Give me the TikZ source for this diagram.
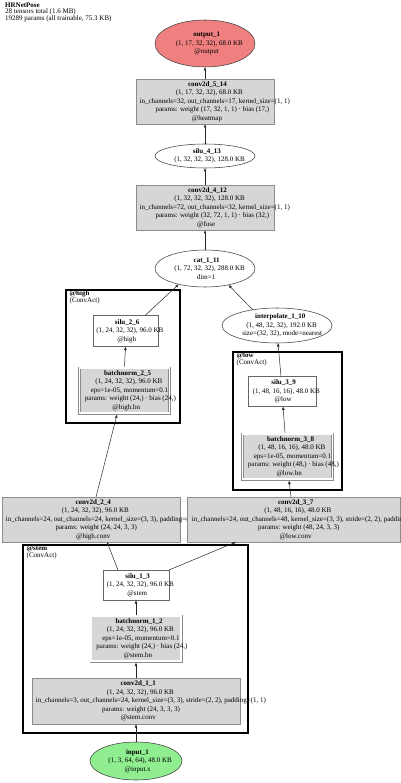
\documentclass[tikz,border=0pt]{standalone}
\usepackage{fontspec}
\setmainfont{Liberation Serif}
\usetikzlibrary{arrows.meta,shapes.geometric}
\definecolor{outfill}{HTML}{F08080}
\definecolor{infill}{HTML}{90EE90}
\definecolor{boxfill}{HTML}{D6D6D6}
\newcommand\gl[1]{\setbox0\hbox{#1}\hspace*{0.13\wd0}\box0}
\tikzset{
 gvtext/.style={font=\fontsize{7}{8.5}\selectfont, align=center, inner sep=0pt},
 ell/.style={ellipse, draw=black!75, line width=0.55pt, fill=white, inner sep=0pt, outer sep=0pt},
 convb/.style={rectangle, draw=black!45, fill=boxfill, line width=0.55pt, inner sep=0pt, outer sep=0pt},
 silub/.style={rectangle, draw=black!60, fill=white, line width=0.55pt, inner sep=0pt, outer sep=0pt},
 bnb/.style={rectangle, draw=black!45, double=white, double distance=1.6pt, fill=boxfill, line width=0.55pt, inner sep=0pt, outer sep=1.35pt, minimum width=90.3, minimum height=45.3},
 clus/.style={rectangle, draw=black, line width=2.4pt, inner sep=0pt, outer sep=0pt},
 clab/.style={font=\fontsize{7}{7}\selectfont, anchor=base west, inner sep=0pt},
 gvedge/.style={draw=black!85, line width=0.5pt, -{Latex[length=3.5pt,width=2.8pt]}},
}
\begin{document}
\begin{tikzpicture}[x=1pt,y=-1pt]
\useasboundingbox (0,0) rectangle (400,783);
% header
\node[clab] (hdr1) at (5,7.6) {\textbf{HRNetPose}};
\node[clab] (hdr2) at (5,13.9) {28 tensors total (1.6 MB)};
\node[clab] (hdr3) at (5,20.2) {19289 params (all trainable, 75.3 KB)};
% clusters
\node[clus, minimum width=114, minimum height=133] (chigh) at (123,356.5) {};
\node[clab] (chigh1) at (69.5,295.6) {\textbf{@high}};
\node[clab] (chigh2) at (69.5,302.2) {(ConvAct)};
\node[clus, minimum width=109, minimum height=138] (clow) at (287.5,421) {};
\node[clab] (clow1) at (236.5,357.6) {\textbf{@low}};
\node[clab] (clow2) at (236.5,364.2) {(ConvAct)};
\node[clus, minimum width=225, minimum height=188] (cstem) at (135.5,639) {};
\node[clab] (cstem1) at (26.5,550.6) {\textbf{@stem}};
\node[clab] (cstem2) at (26.5,557.2) {(ConvAct)};
% nodes
\node[ell, fill=outfill, minimum width=100, minimum height=47] (out1) at (205,43.5) {};
\node[gvtext] (out1t) at (out1) {\gl{\textbf{output\_1}}\\\gl{(1, 17, 32, 32), 68.0 KB}\\\gl{@output}};
\node[convb, minimum width=138, minimum height=45] (c514) at (205,101.5) {};
\node[gvtext] (c514t) at (c514) {\gl{\textbf{conv2d\_5\_14}}\\\gl{(1, 17, 32, 32), 68.0 KB}\\\gl{in\_channels=32, out\_channels=17, kernel\_size=(1, 1)}\\\gl{params: weight (17, 32, 1, 1) · bias (17,)}\\\gl{@heatmap}};
\node[ell, minimum width=100, minimum height=24] (s413) at (205,156) {};
\node[gvtext] (s413t) at (s413) {\gl{\textbf{silu\_4\_13}}\\\gl{(1, 32, 32, 32), 128.0 KB}};
\node[convb, minimum width=138, minimum height=45] (c412) at (205,207.5) {};
\node[gvtext] (c412t) at (c412) {\gl{\textbf{conv2d\_4\_12}}\\\gl{(1, 32, 32, 32), 128.0 KB}\\\gl{in\_channels=72, out\_channels=32, kernel\_size=(1, 1)}\\\gl{params: weight (32, 72, 1, 1) · bias (32,)}\\\gl{@fuse}};
\node[ell, minimum width=100, minimum height=37] (cat) at (205,268.5) {};
\node[gvtext] (catt) at (cat) {\gl{\textbf{cat\_1\_11}}\\\gl{(1, 72, 32, 32), 288.0 KB}\\\gl{dim=1}};
\node[ell, minimum width=110, minimum height=35] (interp) at (277,325.5) {};
\node[gvtext] (interpt) at (interp) {\gl{\textbf{interpolate\_1\_10}}\\\gl{(1, 48, 32, 32), 192.0 KB}\\\gl{size=(32, 32), mode=nearest}};
\node[silub, minimum width=65, minimum height=31] (s26) at (125.5,331) {};
\node[gvtext] (s26t) at (s26) {\gl{\textbf{silu\_2\_6}}\\\gl{(1, 24, 32, 32), 96.0 KB}\\\gl{@high}};
\node[bnb] (bn25) at (124.5,390.5) {};
\node[gvtext] (bn25t) at (bn25) {\gl{\textbf{batchnorm\_2\_5}}\\\gl{(1, 24, 32, 32), 96.0 KB}\\\gl{eps=1e-05, momentum=0.1}\\\gl{params: weight (24,) · bias (24,)}\\\gl{@high.bn}};
\node[silub, minimum width=68, minimum height=30] (s39) at (282,391.5) {};
\node[gvtext] (s39t) at (s39) {\gl{\textbf{silu\_3\_9}}\\\gl{(1, 48, 16, 16), 48.0 KB}\\\gl{@low}};
\node[bnb] (bn38) at (287.5,456.5) {};
\node[gvtext] (bn38t) at (bn38) {\gl{\textbf{batchnorm\_3\_8}}\\\gl{(1, 48, 16, 16), 48.0 KB}\\\gl{eps=1e-05, momentum=0.1}\\\gl{params: weight (48,) · bias (48,)}\\\gl{@low.bn}};
\node[convb, minimum width=178, minimum height=45] (c24) at (91,519.5) {};
\node[gvtext] (c24t) at (c24) {\gl{\textbf{conv2d\_2\_4}}\\\gl{(1, 24, 32, 32), 96.0 KB}\\\gl{in\_channels=24, out\_channels=24, kernel\_size=(3, 3), padding=(1, 1)}\\\gl{params: weight (24, 24, 3, 3)}\\\gl{@high.conv}};
\node[convb, minimum width=213, minimum height=45] (c37) at (293.5,519.5) {};
\node[gvtext] (c37t) at (c37) {\gl{\textbf{conv2d\_3\_7}}\\\gl{(1, 48, 16, 16), 48.0 KB}\\\gl{in\_channels=24, out\_channels=48, kernel\_size=(3, 3), stride=(2, 2), padding=(1, 1)}\\\gl{params: weight (48, 24, 3, 3)}\\\gl{@low.conv}};
\node[silub, minimum width=66, minimum height=30] (s13) at (136,585) {};
\node[gvtext] (s13t) at (s13) {\gl{\textbf{silu\_1\_3}}\\\gl{(1, 24, 32, 32), 96.0 KB}\\\gl{@stem}};
\node[bnb] (bn12) at (136,638.5) {};
\node[gvtext] (bn12t) at (bn12) {\gl{\textbf{batchnorm\_1\_2}}\\\gl{(1, 24, 32, 32), 96.0 KB}\\\gl{eps=1e-05, momentum=0.1}\\\gl{params: weight (24,) · bias (24,)}\\\gl{@stem.bn}};
\node[convb, minimum width=208, minimum height=46] (c11) at (136,701) {};
\node[gvtext] (c11t) at (c11) {\gl{\textbf{conv2d\_1\_1}}\\\gl{(1, 24, 32, 32), 96.0 KB}\\\gl{in\_channels=3, out\_channels=24, kernel\_size=(3, 3), stride=(2, 2), padding=(1, 1)}\\\gl{params: weight (24, 3, 3, 3)}\\\gl{@stem.conv}};
\node[ell, fill=infill, minimum width=92, minimum height=38] (in1) at (136,761) {};
\node[gvtext] (in1t) at (in1) {\gl{\textbf{input\_1}}\\\gl{(1, 3, 64, 64), 48.0 KB}\\\gl{@input.x}};
% edges
\draw[gvedge] (in1) -- (c11);
\draw[gvedge] (c11) -- (bn12);
\draw[gvedge] (bn12) -- (s13);
\draw[gvedge] ([xshift=-18]s13.north) -- ([xshift=16]c24.south);
\draw[gvedge] (s13.north east) -- ([xshift=-57.5]c37.south);
\draw[gvedge] ([xshift=5]c24.north) -- ([xshift=-7.5]bn25.south);
\draw[gvedge] (bn25.north) -- (s26.south);
\draw[gvedge] ([xshift=19.5]s26.north) -- (cat.211);
\draw[gvedge] ([xshift=-2.5]c37.north) -- ([xshift=1.5]bn38.south);
\draw[gvedge] ([xshift=-2.5]bn38.north) -- ([xshift=1]s39.south);
\draw[gvedge] ([xshift=-1]s39.north) -- ([xshift=1]interp.south);
\draw[gvedge] (interp.147) -- (cat.325);
\draw[gvedge] (cat) -- (c412);
\draw[gvedge] (c412) -- (s413);
\draw[gvedge] (s413) -- (c514);
\draw[gvedge] (c514) -- (out1);
\end{tikzpicture}
\end{document}
